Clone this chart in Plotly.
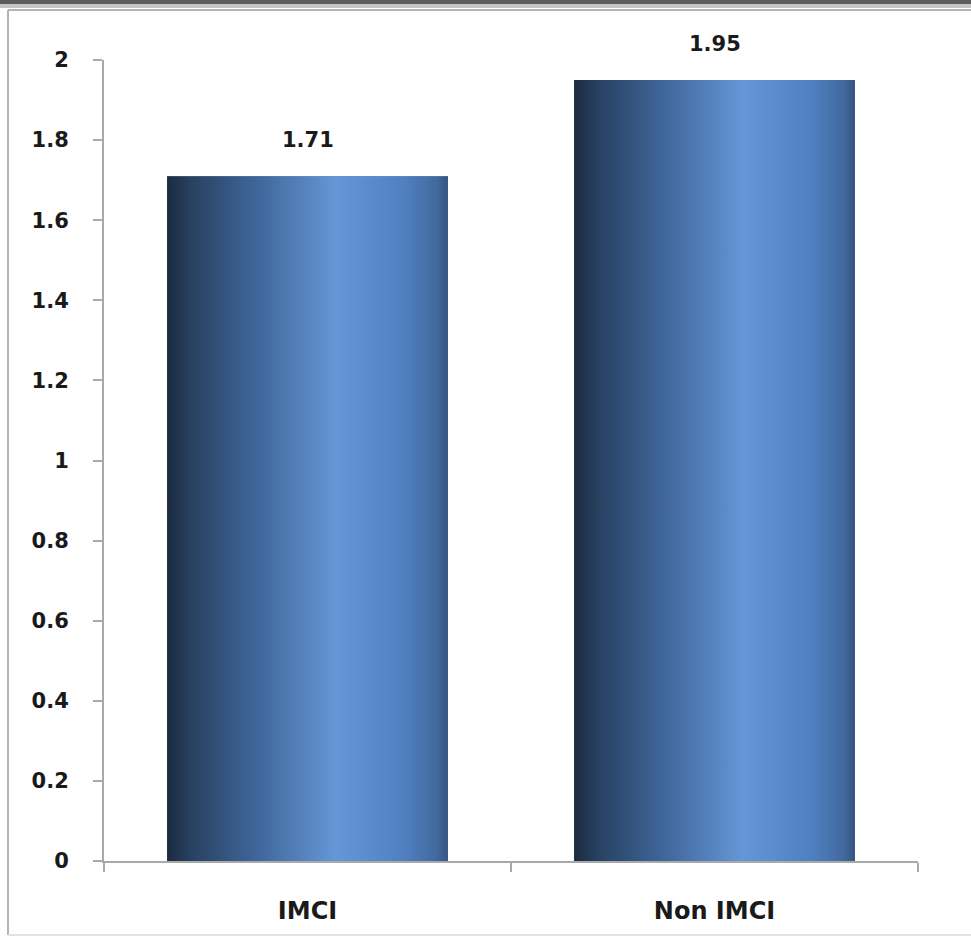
import plotly.graph_objects as go

# Data
categories = ["IMCI", "Non IMCI"]
values = [1.71, 1.95]
value_labels = ["1.71", "1.95"]
y_ticks = [0, 0.2, 0.4, 0.6, 0.8, 1, 1.2, 1.4, 1.6, 1.8, 2]
y_tick_text = ["0", "0.2", "0.4", "0.6", "0.8", "1", "1.2", "1.4", "1.6", "1.8", "2"]

W, H = 971, 937
L, R, T, B = 104, 53, 60, 76
BAR_WIDTH = 0.69

# Horizontal shading across each bar (dark left edge, highlight right of centre)
bar_shading = [
    [0.0, "#1c2a40"],
    [0.08, "#27405f"],
    [0.3, "#3d6396"],
    [0.6, "#6596d6"],
    [0.85, "#4f7fbf"],
    [0.96, "#42699f"],
    [1.0, "#34557f"],
]

fig = go.Figure()

# Base bars on the category axis
fig.add_trace(go.Bar(
    x=categories, y=values, width=BAR_WIDTH,
    marker=dict(color="#4a78b4", line=dict(width=0)),
    hoverinfo="skip", showlegend=False,
))

# Gradient faces drawn over the bars on a hidden linear overlay axis
for i, v in enumerate(values):
    x0, x1 = i - BAR_WIDTH / 2, i + BAR_WIDTH / 2
    fig.add_trace(go.Scatter(
        x=[x0, x1, x1, x0, x0], y=[0, 0, v, v, 0],
        xaxis="x2", mode="lines", line=dict(width=0),
        fill="toself",
        fillgradient=dict(type="horizontal", colorscale=bar_shading),
        hoverinfo="skip", showlegend=False,
    ))

# Value labels above each bar
for cat, v, lab in zip(categories, values, value_labels):
    fig.add_annotation(
        x=cat, y=v, text=lab, showarrow=False,
        yanchor="bottom", yshift=22,
        font=dict(family="DejaVu Sans", size=21, color="#1a1a1a", weight="bold"),
    )


def px_x(p):
    return (p - L) / (W - L - R)


def px_y(p):
    return (H - B - p) / (H - T - B)


# Window-style frame: dark strip at the top and thin grey border lines
fig.add_shape(type="rect", xref="paper", yref="paper", layer="below",
              x0=px_x(0), x1=px_x(W), y0=px_y(0), y1=px_y(4),
              fillcolor="#5c5c5c", line=dict(width=0))
fig.add_shape(type="rect", xref="paper", yref="paper", layer="below",
              x0=px_x(0), x1=px_x(W), y0=px_y(4), y1=px_y(8),
              fillcolor="#c4c4c4", line=dict(width=0))
frame = dict(color="#b4b4b4", width=2)
fig.add_shape(type="line", xref="paper", yref="paper", layer="below",
              x0=px_x(8), x1=px_x(W), y0=px_y(10), y1=px_y(10), line=frame)
fig.add_shape(type="line", xref="paper", yref="paper", layer="below",
              x0=px_x(8), x1=px_x(8), y0=px_y(10), y1=px_y(935), line=frame)
fig.add_shape(type="line", xref="paper", yref="paper", layer="below",
              x0=px_x(8), x1=px_x(W), y0=px_y(935), y1=px_y(935),
              line=dict(color="#e2e2e2", width=2))

axis_grey = "#a9a9a9"

fig.update_layout(
    width=W, height=H,
    margin=dict(l=L, r=R, t=T, b=B, pad=0),
    paper_bgcolor="white", plot_bgcolor="white",
    showlegend=False, bargap=1 - BAR_WIDTH,
    xaxis=dict(
        type="category", range=[-0.5, 1.5],
        showline=True, linecolor=axis_grey, linewidth=2,
        ticks="outside", tickson="boundaries", ticklen=9,
        tickcolor=axis_grey, tickwidth=2,
        showgrid=False, zeroline=False,
        ticklabelstandoff=27,
        tickfont=dict(family="DejaVu Sans", size=24, color="#1a1a1a", weight="bold"),
    ),
    xaxis2=dict(
        overlaying="x", range=[-0.5, 1.5], visible=False,
        showgrid=False, zeroline=False,
    ),
    yaxis=dict(
        range=[0, 2], tickvals=y_ticks, ticktext=y_tick_text,
        showline=True, linecolor=axis_grey, linewidth=2,
        ticks="outside", ticklen=9, tickcolor=axis_grey, tickwidth=2,
        showgrid=False, zeroline=False,
        ticklabelstandoff=20,
        tickfont=dict(family="DejaVu Sans", size=21, color="#1a1a1a", weight="bold"),
    ),
)

fig.write_html("out.html")
